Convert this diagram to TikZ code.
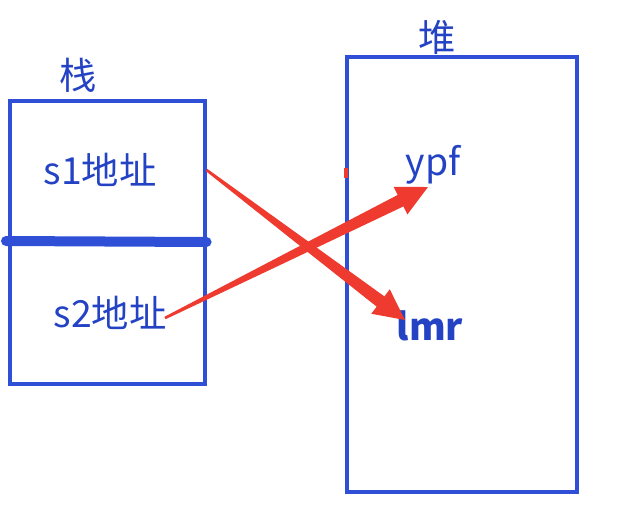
\documentclass[tikz,border=0pt]{standalone}
\usepackage{fontspec}
\setmainfont{Noto Sans CJK SC}
\usetikzlibrary{calc}
\definecolor{box-blue}{HTML}{2E4FD6}
\definecolor{text-blue}{HTML}{2443C4}
\definecolor{ptr-red}{HTML}{EE3A2F}

% tapered pointer: thin at the start, wide head at the tip
\newcommand{\taperptr}[2]{%
  \coordinate (hb) at ($(#2)!23pt!(#1)$);
  \coordinate (hm) at ($(#1)!0.45!(#2)$);
  \fill[ptr-red] ($(#1)!1pt!90:(#2)$) -- ($(hm)!3pt!90:(#2)$)
      -- ($(hb)!4.8pt!90:(#2)$) -- ($(hb)!11.5pt!90:(#2)$) -- (#2)
      -- ($(hb)!11.5pt!-90:(#2)$) -- ($(hb)!4.8pt!-90:(#2)$)
      -- ($(hm)!3pt!-90:(#2)$) -- ($(#1)!1pt!-90:(#2)$) -- cycle;
}

\begin{document}
\begin{tikzpicture}[x=0.75pt, y=-0.75pt,
        every node/.style={text=text-blue, font=\fontsize{28}{30}\selectfont},
        frame/.style={draw=box-blue, line width=2.6pt, inner sep=0pt}]
      \useasboundingbox (0,0) rectangle (634,504);
      \node[frame, minimum width=146pt, minimum height=212pt] (stack) at (107.5,242.5) {};
      \node[frame, minimum width=172.5pt, minimum height=326pt] (heap) at (462,274.5) {};
      \node (stacklbl) at (78,75) {栈};
      \node (heaplbl) at (437,37) {堆};
      \node (s1) at (100,170) {s1地址};
      \node (s2) at (110,313) {s2地址};
      \node (ypf) at (433,165) {ypf};
      \node[font=\fontsize{28}{30}\selectfont\bfseries] (lmr) at (430,326) {lmr};
      \draw[box-blue, line width=7.5pt, line cap=round] (6,241) -- (stack.east |- 0,242);
      \draw[ptr-red, line width=2.5pt] (346,168) -- (346,178);
      \coordinate (s1out) at (stack.east |- s1);
      \coordinate (s2out) at (165,318);
      \coordinate (ypfin) at (428,187);
      \coordinate (lmrin) at (405,320);
      \taperptr{s1out}{lmrin}
      \taperptr{s2out}{ypfin}
    \end{tikzpicture}
\end{document}
